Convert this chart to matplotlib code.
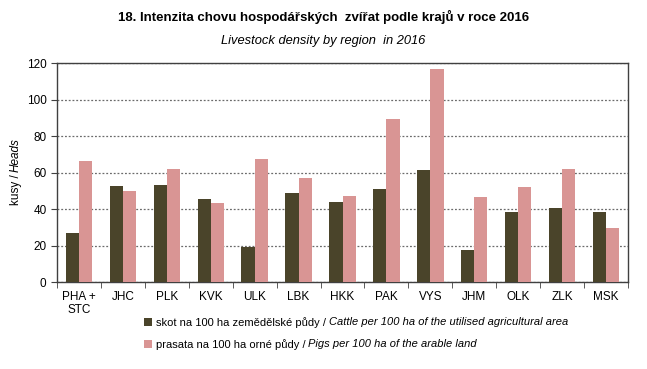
import matplotlib.pyplot as plt
import numpy as np

plt.rcParams['font.family'] = ['Liberation Sans', 'DejaVu Sans']

regions = ["PHA +\nSTC", "JHC", "PLK", "KVK", "ULK", "LBK", "HKK",
           "PAK", "VYS", "JHM", "OLK", "ZLK", "MSK"]
cattle = [27.0, 52.8, 53.3, 45.7, 19.4, 49.0, 44.0, 51.1, 61.6, 17.7, 38.5, 40.7, 38.5]
pigs = [66.5, 50.0, 62.1, 43.5, 67.6, 57.2, 47.3, 89.5, 116.9, 46.8, 52.2, 62.1, 29.8]

labels_cz = ["skot na 100 ha zemědělské půdy /", "prasata na 100 ha orné půdy /"]
labels_en = ["Cattle per 100 ha of the utilised agricultural area",
             "Pigs per 100 ha of the arable land"]

fig = plt.figure(figsize=(6.47, 3.69), dpi=100)
ax = fig.add_axes([57 / 647, 1 - 282.3 / 369, 571 / 647, 219 / 369])

x = np.arange(len(regions))
w = 0.3
ax.bar(x - w / 2, cattle, width=w, color="#4A442A", label=labels_cz[0], zorder=3)
ax.bar(x + w / 2, pigs, width=w, color="#D99594", label=labels_cz[1], zorder=3)

ax.set_xlim(-0.5, len(regions) - 0.5)
ax.set_ylim(0, 120)
ax.set_yticks(np.arange(0, 121, 20))
ax.yaxis.grid(True, linestyle=(0, (1.5, 1.5)), color="#6b6b6b", linewidth=0.9, zorder=0)

ax.set_xticks(x)
ax.set_xticklabels(regions, fontsize=8.5)
ax.set_xticks(np.arange(-0.5, len(regions), 1), minor=True)
ax.tick_params(axis='x', which='major', length=0, pad=6)
ax.tick_params(axis='x', which='minor', length=4, direction='out', color="#404040")
ax.tick_params(axis='y', length=4, direction='out', color="#404040", labelsize=8.5)
for s in ax.spines.values():
    s.set_color("#404040")
    s.set_linewidth(1.0)

fig.text(0.5, 1 - 17 / 369, "18. Intenzita chovu hospodářských  zvířat podle krajů v roce 2016",
         ha='center', va='center', fontsize=9.5, fontweight='bold')
fig.text(0.5, 1 - 41 / 369, "Livestock density by region  in 2016",
         ha='center', va='center', fontsize=9.3, style='italic')

leg = fig.legend(loc='upper left', bbox_to_anchor=(144 / 647, 1 - 317 / 369), frameon=False,
                 fontsize=8, handlelength=0.7, handleheight=0.7, handletextpad=0.4,
                 labelspacing=1.0, borderpad=0, borderaxespad=0)

# y label: regular + italic part, stacked along the rotated baseline
fig.canvas.draw()
r = fig.canvas.get_renderer()
ylx = 16 / 647
t1 = fig.text(ylx, 1 - 205 / 369, "kusy /", rotation=90, ha='center', va='bottom', fontsize=8.5)
fig.canvas.draw()
bb = t1.get_window_extent(r)
fig.text(ylx, (bb.y1 + 2.5) / fig.bbox.height, "Heads", rotation=90, ha='center',
         va='bottom', fontsize=8.5, style='italic')

# legend: italic English part after the Czech label
for t, en in zip(leg.get_texts(), labels_en):
    bb = t.get_window_extent(r)
    fig.text((bb.x1 + 2.5) / fig.bbox.width, (bb.y0 + bb.y1) / 2 / fig.bbox.height, en,
             ha='left', va='center', fontsize=8, style='italic')

fig.savefig("out.png", dpi=100)
